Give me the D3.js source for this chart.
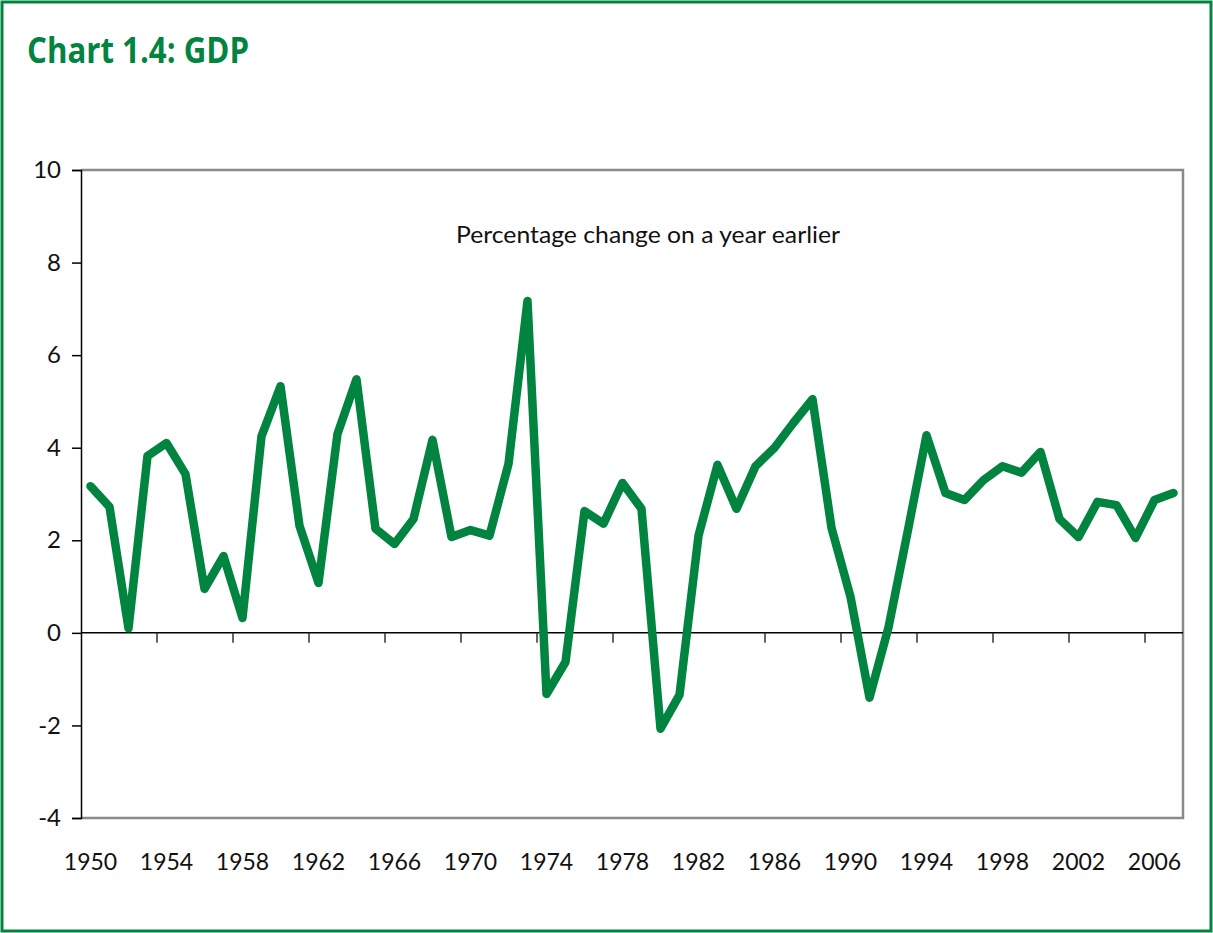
<!DOCTYPE html>
<html>
<head>
<meta charset="utf-8">
<script src="https://cdn.jsdelivr.net/npm/d3@7"></script>
<style>
  body { margin: 0; background: #fff; }
  svg { display: block; font-family: Lato, "Open Sans", sans-serif; }
</style>
</head>
<body>
<svg id="chart" width="1213" height="933"></svg>
<script>
// GDP, percentage change on a year earlier
var years = d3.range(1950, 2008);
var growth = [
  3.17, 2.72, 0.1, 3.82, 4.1, 3.43, 0.95, 1.66, 0.32, 4.25,
  5.33, 2.31, 1.08, 4.3, 5.48, 2.25, 1.92, 2.46, 4.17, 2.07,
  2.22, 2.1, 3.65, 7.17, -1.32, -0.63, 2.63, 2.36, 3.24, 2.68,
  -2.07, -1.34, 2.1, 3.63, 2.68, 3.6, 4.0, 4.54, 5.05, 2.27,
  0.78, -1.4, 0.12, 2.17, 4.27, 3.02, 2.87, 3.3, 3.6, 3.46,
  3.91, 2.46, 2.07, 2.83, 2.76, 2.05, 2.87, 3.02
];
var yTicks = [-4, -2, 0, 2, 4, 6, 8, 10];
var xLabels = d3.range(1950, 2008, 4);

var green = "#00843f";
var svg = d3.select("#chart");

// outer frame
svg.append("rect")
  .attr("x", 2).attr("y", 2)
  .attr("width", 1209).attr("height", 929)
  .attr("fill", "none")
  .attr("stroke", green)
  .attr("stroke-width", 3);

svg.append("text")
  .attr("x", 27).attr("y", 63)
  .attr("fill", green)
  .attr("font-family", "'Open Sans', sans-serif")
  .attr("font-weight", "bold")
  .attr("font-size", 36)
  .attr("textLength", 222)
  .attr("lengthAdjust", "spacingAndGlyphs")
  .text("Chart 1.4: GDP");

var plotLeft = 81, plotRight = 1183, plotTop = 170, plotBottom = 818;

var x = d3.scaleBand().domain(years).range([plotLeft, plotRight]).padding(0);
var y = d3.scaleLinear().domain([-4, 10]).range([plotBottom, plotTop]);

// plot border (top, right, bottom in grey)
svg.append("path")
  .attr("d", "M" + plotLeft + "," + plotTop + "H" + plotRight + "V" + plotBottom + "H" + plotLeft)
  .attr("fill", "none")
  .attr("stroke", "#8a8a8a")
  .attr("stroke-width", 2.5);

// y axis
var yAxis = svg.append("g")
  .attr("transform", "translate(" + plotLeft + ",0)")
  .call(d3.axisLeft(y).tickValues(yTicks).tickSize(9).tickPadding(11).tickFormat(d => String(d)));
yAxis.select(".domain").attr("stroke", "#000").attr("stroke-width", 1.5);
yAxis.selectAll(".tick line").attr("stroke", "#000").attr("stroke-width", 1.5);
yAxis.selectAll("text")
  .attr("font-family", "Lato, sans-serif")
  .attr("font-size", 24)
  .attr("fill", "#111");

// zero line with ticks at band boundaries
svg.append("line")
  .attr("x1", plotLeft).attr("x2", plotRight)
  .attr("y1", y(0)).attr("y2", y(0))
  .attr("stroke", "#000").attr("stroke-width", 1.5);

svg.selectAll(".xtick")
  .data(xLabels.slice(1))
  .enter().append("line")
  .attr("class", "xtick")
  .attr("x1", d => x(d)).attr("x2", d => x(d))
  .attr("y1", y(0)).attr("y2", y(0) + 10)
  .attr("stroke", "#333").attr("stroke-width", 1.5);

// x labels
var xAxis = svg.append("g")
  .attr("transform", "translate(0," + (plotBottom + 36) + ")")
  .call(d3.axisBottom(x).tickValues(xLabels).tickSize(0).tickPadding(0));
xAxis.select(".domain").remove();
xAxis.selectAll("text")
  .attr("font-family", "Lato, sans-serif")
  .attr("font-size", 23)
  .attr("fill", "#111");

svg.append("text")
  .attr("x", 648).attr("y", 243)
  .attr("text-anchor", "middle")
  .attr("font-family", "Lato, sans-serif")
  .attr("font-size", 23)
  .attr("textLength", 384)
  .attr("lengthAdjust", "spacingAndGlyphs")
  .attr("fill", "#111")
  .text("Percentage change on a year earlier");

var line = d3.line()
  .x((d, i) => x(years[i]) + x.bandwidth() / 2)
  .y(d => y(d));

svg.append("path")
  .datum(growth)
  .attr("d", line)
  .attr("fill", "none")
  .attr("stroke", green)
  .attr("stroke-width", 8.5)
  .attr("stroke-linejoin", "round")
  .attr("stroke-linecap", "round");
</script>
</body>
</html>
